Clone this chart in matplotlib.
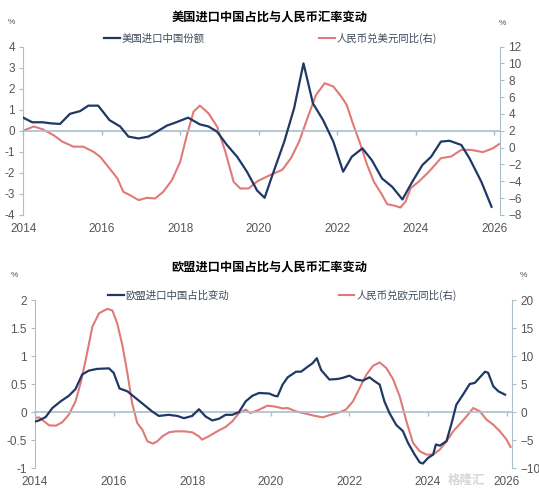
import numpy as np
import matplotlib.pyplot as plt

plt.rcParams['font.family'] = ['Liberation Sans', 'Noto Sans CJK SC']

# ---- top chart: US imports share of China vs CNY/USD yoy ----
us_x = [2014.0, 2014.23, 2014.5, 2014.7, 2014.94, 2015.19, 2015.45, 2015.66, 2015.91,
        2016.2, 2016.47, 2016.68, 2016.94, 2017.19, 2017.4, 2017.66, 2017.9, 2018.2,
        2018.5, 2018.72, 2018.94, 2019.19, 2019.45, 2019.7, 2019.96, 2020.15, 2020.35,
        2020.65, 2020.9, 2021.14, 2021.38, 2021.64, 2021.9, 2022.15, 2022.37, 2022.64,
        2022.88, 2023.14, 2023.4, 2023.66, 2023.91, 2024.17, 2024.39, 2024.64, 2024.86,
        2025.16, 2025.37, 2025.67, 2025.93]
us_share = [0.62, 0.4, 0.4, 0.35, 0.32, 0.8, 0.93, 1.19, 1.19,
            0.5, 0.2, -0.28, -0.37, -0.28, -0.05, 0.24, 0.4, 0.62,
            0.3, 0.2, -0.05, -0.68, -1.24, -1.95, -2.85, -3.19, -2.1,
            -0.52, 1.06, 3.2, 1.3, 0.5, -0.52, -1.95, -1.24, -0.84,
            -1.4, -2.27, -2.67, -3.27, -2.43, -1.63, -1.24, -0.52, -0.48,
            -0.68, -1.32, -2.43, -3.62]

usd_x = [2014.0, 2014.27, 2014.5, 2014.77, 2015.0, 2015.28, 2015.53, 2015.79, 2015.96,
         2016.2, 2016.4, 2016.55, 2016.72, 2016.94, 2017.15, 2017.36, 2017.57, 2017.79,
         2018.0, 2018.17, 2018.34, 2018.5, 2018.72, 2018.94, 2019.15, 2019.36, 2019.53,
         2019.74, 2019.97, 2020.3, 2020.6, 2020.82, 2021.03, 2021.24, 2021.46, 2021.68,
         2021.9, 2022.1, 2022.24, 2022.41, 2022.58, 2022.76, 2022.93, 2023.14, 2023.27,
         2023.44, 2023.61, 2023.74, 2023.87, 2024.08, 2024.34, 2024.64, 2024.9, 2025.16,
         2025.41, 2025.71, 2025.97, 2026.12]
cny_usd = [2.0, 2.5, 2.16, 1.48, 0.69, 0.1, 0.1, -0.5, -1.1,
           -2.48, -3.67, -5.26, -5.66, -6.25, -5.98, -6.06, -5.26, -3.87,
           -1.69, 1.48, 4.26, 4.98, 4.06, 2.48, -0.5, -4.07, -4.87,
           -4.87, -4.0, -3.25, -2.65, -1.27, 0.71, 3.49, 6.26, 7.64,
           7.25, 6.06, 5.07, 2.69, 0.51, -2.06, -4.04, -5.62, -6.73,
           -6.89, -7.13, -6.42, -4.83, -4.04, -2.85, -1.27, -1.07, -0.28,
           -0.28, -0.55, -0.08, 0.4]

# ---- bottom chart: EU imports share of China vs CNY/EUR yoy ----
eu_x = [2014.0, 2014.1, 2014.27, 2014.44, 2014.65, 2014.86, 2015.03, 2015.2, 2015.37,
        2015.58, 2015.88, 2016.0, 2016.15, 2016.35, 2016.56, 2016.77, 2016.98, 2017.15,
        2017.4, 2017.62, 2017.79, 2018.0, 2018.17, 2018.34, 2018.51, 2018.68, 2018.85,
        2019.02, 2019.19, 2019.36, 2019.53, 2019.7, 2019.96, 2020.09, 2020.17, 2020.3,
        2020.43, 2020.64, 2020.77, 2020.94, 2021.06, 2021.17, 2021.28, 2021.49, 2021.7,
        2021.83, 2022.0, 2022.17, 2022.34, 2022.51, 2022.64, 2022.77, 2022.89, 2023.02,
        2023.19, 2023.36, 2023.49, 2023.66, 2023.79, 2023.87, 2024.0, 2024.13, 2024.2,
        2024.3, 2024.47, 2024.6, 2024.72, 2024.89, 2025.06, 2025.19, 2025.32, 2025.45,
        2025.53, 2025.66, 2025.79, 2025.96]
eu_share = [-0.17, -0.15, -0.09, 0.07, 0.19, 0.29, 0.41, 0.67, 0.74,
            0.77, 0.78, 0.7, 0.42, 0.37, 0.25, 0.13, 0.01, -0.07,
            -0.05, -0.07, -0.11, -0.07, 0.05, -0.08, -0.15, -0.12, -0.05,
            -0.05, 0.0, 0.19, 0.29, 0.34, 0.33, 0.29, 0.28, 0.49,
            0.62, 0.72, 0.72, 0.81, 0.87, 0.96, 0.75, 0.58, 0.59,
            0.61, 0.65, 0.58, 0.56, 0.62, 0.55, 0.49, 0.19, -0.02,
            -0.23, -0.34, -0.55, -0.76, -0.9, -0.92, -0.82, -0.76, -0.58,
            -0.6, -0.52, -0.2, 0.13, 0.31, 0.5, 0.52, 0.62, 0.72,
            0.7, 0.46, 0.37, 0.31]

eur_x = [2014.0, 2014.1, 2014.23, 2014.36, 2014.53, 2014.69, 2014.86, 2015.03, 2015.16,
         2015.29, 2015.46, 2015.63, 2015.84, 2015.97, 2016.09, 2016.22, 2016.35, 2016.47,
         2016.6, 2016.73, 2016.86, 2017.0, 2017.11, 2017.24, 2017.41, 2017.58, 2017.79,
         2018.0, 2018.17, 2018.25, 2018.42, 2018.68, 2018.85, 2019.02, 2019.19, 2019.36,
         2019.48, 2019.7, 2019.91, 2020.09, 2020.3, 2020.43, 2020.64, 2020.89, 2021.1,
         2021.32, 2021.53, 2021.74, 2021.91, 2022.09, 2022.26, 2022.43, 2022.6, 2022.77,
         2022.94, 2023.11, 2023.28, 2023.45, 2023.62, 2023.79, 2023.96, 2024.13, 2024.3,
         2024.47, 2024.64, 2024.81, 2024.98, 2025.15, 2025.32, 2025.49, 2025.66, 2025.83,
         2026.0, 2026.1]
cny_eur = [-1.07, -0.95, -1.66, -2.38, -2.44, -1.84, -0.48, 1.9, 5.17,
           9.33, 15.27, 17.65, 18.42, 18.12, 15.86, 12.0, 6.95, 1.6,
           -1.96, -3.15, -5.23, -5.64, -5.23, -4.34, -3.62, -3.45, -3.45,
           -3.62, -4.34, -4.93, -4.34, -3.27, -2.67, -1.66, -0.18, 0.42,
           -0.18, 0.4, 1.13, 1.0, 0.65, 0.71, 0.12, -0.3, -0.65,
           -0.95, -0.48, -0.06, 0.42, 1.9, 4.28, 6.65, 8.26, 8.85,
           7.84, 5.88, 2.79, -1.66, -5.53, -7.01, -7.6, -7.6, -6.71,
           -5.23, -3.45, -2.14, -0.77, 0.71, 0.12, -1.37, -2.26, -3.45,
           -4.93, -6.24]

years = [2014, 2016, 2018, 2020, 2022, 2024, 2026]

BLUE = '#1f3864'
RED = '#e07a78'
AXC = '#a9c0cc'
TXT = '#555555'


def setup(ax, ylim, yticks, ylim2, yticks2, xlim, ytick_fmt):
    ax.set_xlim(*xlim)
    ax.set_ylim(*ylim)
    ax.set_yticks(yticks)
    ax.set_yticklabels([ytick_fmt(v) for v in yticks])
    ax.set_xticks(years)
    ax.tick_params(axis='x', length=0, labelsize=8.5, colors=TXT, pad=6)
    ax.tick_params(axis='y', length=3, color=AXC, labelsize=8.5, labelcolor=TXT, pad=3)
    for s in ['top', 'right', 'bottom']:
        ax.spines[s].set_visible(False)
    ax.spines['left'].set_color(AXC)
    # zero axis line with tick marks, labels stay at the bottom
    zero_pos = (0 - ylim[0]) / (ylim[1] - ylim[0])
    sec = ax.secondary_xaxis(zero_pos)
    sec.set_xticks(years)
    sec.set_xticklabels([])
    sec.xaxis.set_ticks_position('bottom')
    sec.tick_params(axis='x', direction='out', length=3, color=AXC, width=1)
    for s in sec.spines.values():
        s.set_color(AXC)
        s.set_linewidth(1.2)
    ax2 = ax.twinx()
    ax2.set_ylim(*ylim2)
    ax2.set_yticks(yticks2)
    ax2.tick_params(axis='y', length=3, color=AXC, labelsize=8.5, labelcolor=TXT, pad=3)
    for s in ['top', 'left', 'bottom']:
        ax2.spines[s].set_visible(False)
    ax2.spines['right'].set_color(AXC)
    return ax2


def fmt_int(v):
    return '%d' % v


def fmt_half(v):
    return ('%g' % v)


fig = plt.figure(figsize=(5.39, 4.95), dpi=100)

# top chart
ax1 = fig.add_axes([0.043, 0.566, 0.885, 0.34])
ax1b = setup(ax1, (-4, 4), range(-4, 5), (-8, 12), range(-8, 13, 2), (2014, 2026.15), fmt_int)
l1, = ax1.plot(us_x, us_share, color=BLUE, lw=1.6, zorder=3)
l2, = ax1b.plot(usd_x, cny_usd, color=RED, lw=1.5)
ax1.set_zorder(ax1b.get_zorder() + 1)
ax1.patch.set_visible(False)
fig.text(0.5, 0.965, '美国进口中国占比与人民币汇率变动', ha='center', va='center',
         fontsize=8.8, fontweight='bold', family=['Noto Sans CJK SC'])
fig.text(0.022, 0.955, '%', fontsize=6, color=TXT, ha='center', va='center')
fig.text(0.932, 0.953, '%', fontsize=6, color=TXT, ha='center', va='center')
fig.legend([l1, l2], ['美国进口中国份额', '人民币兑美元同比(右)'], loc='center',
           bbox_to_anchor=(0.502, 0.923), ncol=2, frameon=False,
           handlelength=1.5, handletextpad=0.2, columnspacing=11.0,
           labelcolor='#3d4a5c', prop={'family': ['Noto Sans CJK SC'], 'size': 7.5})

# bottom chart
ax3 = fig.add_axes([0.065, 0.0545, 0.8844, 0.3394])
ax3b = setup(ax3, (-1, 2), [-1, -0.5, 0, 0.5, 1, 1.5, 2], (-10, 20), range(-10, 21, 5),
             (2014, 2026.13), fmt_half)
l3, = ax3.plot(eu_x, eu_share, color=BLUE, lw=1.6, zorder=3)
l4, = ax3b.plot(eur_x, cny_eur, color=RED, lw=1.5)
ax3.set_zorder(ax3b.get_zorder() + 1)
ax3.patch.set_visible(False)
fig.text(0.5, 0.46, '欧盟进口中国占比与人民币汇率变动', ha='center', va='center',
         fontsize=8.8, fontweight='bold', family=['Noto Sans CJK SC'])
fig.text(0.027, 0.443, '%', fontsize=6, color=TXT, ha='center', va='center')
fig.text(0.972, 0.443, '%', fontsize=6, color=TXT, ha='center', va='center')
fig.legend([l3, l4], ['欧盟进口中国占比变动', '人民币兑欧元同比(右)'], loc='center',
           bbox_to_anchor=(0.524, 0.404), ncol=2, frameon=False,
           handlelength=1.5, handletextpad=0.2, columnspacing=10.5,
           labelcolor='#3d4a5c', prop={'family': ['Noto Sans CJK SC'], 'size': 7.5})

# watermark
fig.text(0.866, 0.03, '格隆汇', fontsize=9, color='#d6d6d6', ha='center', va='center',
         family=['Noto Sans CJK SC'], fontweight='bold')

fig.savefig('out.png', dpi=100)
